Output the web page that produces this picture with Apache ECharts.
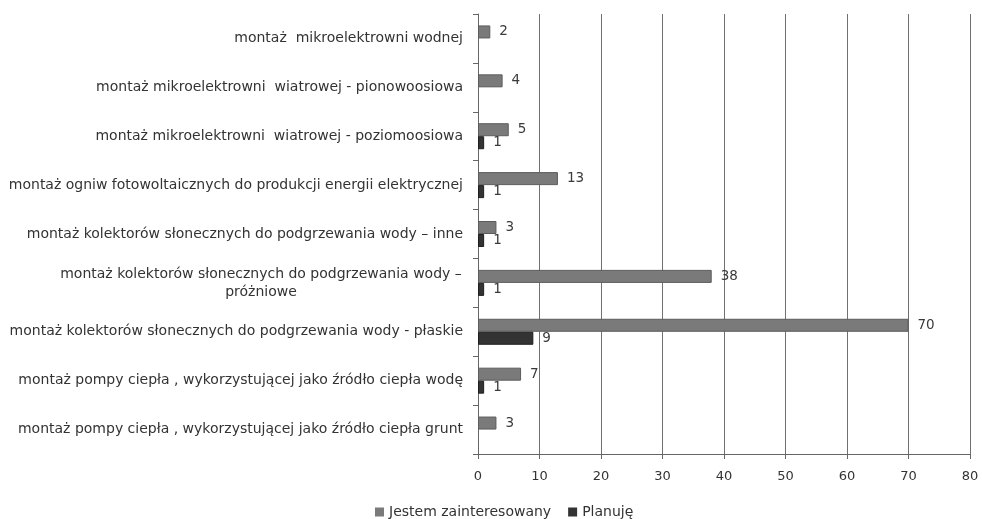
<!DOCTYPE html>
<html>
<head>
<meta charset="utf-8">
<script src="https://cdn.jsdelivr.net/npm/echarts@6/dist/echarts.min.js"></script>
<style>
  html, body { margin: 0; padding: 0; background: #fff; }
  #chart { width: 982px; height: 519px; }
</style>
</head>
<body>
<div id="chart"></div>
<script>
// Categories, listed top to bottom
const categories = [
  'montaż  mikroelektrowni wodnej',
  'montaż mikroelektrowni  wiatrowej - pionowoosiowa',
  'montaż mikroelektrowni  wiatrowej - poziomoosiowa',
  'montaż ogniw fotowoltaicznych do produkcji energii elektrycznej',
  'montaż kolektorów słonecznych do podgrzewania wody – inne',
  'montaż kolektorów słonecznych do podgrzewania wody –\npróżniowe',
  'montaż kolektorów słonecznych do podgrzewania wody - płaskie',
  'montaż pompy ciepła , wykorzystującej jako źródło ciepła wodę',
  'montaż pompy ciepła , wykorzystującej jako źródło ciepła grunt'
];

const seriesNames = ['Jestem zainteresowany', 'Planuję'];

const interested = [2, 4, 5, 13, 3, 38, 70, 7, 3];
const planning = [null, null, 1, 1, 1, 1, 9, 1, null];

const xTicks = [0, 10, 20, 30, 40, 50, 60, 70, 80];

const FONT = 'DejaVu Sans';
const chart = echarts.init(document.getElementById('chart'), null, { renderer: 'canvas' });

const valueLabel = {
  show: true,
  position: 'right',
  distance: 9,
  color: '#3a3a3a',
  fontFamily: FONT,
  fontSize: 13.5,
  formatter: p => (p.value == null ? '' : String(p.value))
};

chart.setOption({
  animation: false,
  backgroundColor: '#ffffff',
  grid: { left: 478, right: 12, top: 14, bottom: 65, containLabel: false },
  legend: {
    left: 370,
    top: 500,
    icon: 'rect',
    itemWidth: 9,
    itemHeight: 9,
    itemGap: 17,
    itemStyle: { borderWidth: 0 },
    textStyle: { fontFamily: FONT, fontSize: 14, color: '#333' },
    data: seriesNames
  },
  xAxis: {
    type: 'value',
    min: xTicks[0],
    max: xTicks[xTicks.length - 1],
    interval: 10,
    axisLine: { show: true, lineStyle: { color: '#666', width: 1 } },
    axisTick: { show: true, length: 5, lineStyle: { color: '#666' } },
    axisLabel: { margin: 16, fontFamily: FONT, fontSize: 13, color: '#333' },
    splitLine: { show: true, lineStyle: { color: '#707070', width: 1 } }
  },
  yAxis: {
    type: 'category',
    inverse: true,
    data: categories,
    axisLine: { show: true, lineStyle: { color: '#666', width: 1 } },
    axisTick: { show: true, length: 5, lineStyle: { color: '#666' } },
    axisLabel: {
      margin: 15,
      fontFamily: FONT,
      fontSize: 14,
      color: '#333',
      lineHeight: 18,
      formatter: v => {
        if (v.indexOf('\n') >= 0) {
          return v.split('\n').map(s => '{c|' + s + '}').join('\n');
        }
        return v;
      },
      rich: {
        c: { width: 404, align: 'center', fontFamily: FONT, fontSize: 14, color: '#333', lineHeight: 18 }
      }
    }
  },
  series: [
    {
      name: seriesNames[0],
      type: 'bar',
      data: interested,
      barWidth: 13,
      barGap: '0%',
      itemStyle: { color: '#7a7a7a', borderColor: '#5c5c5c', borderWidth: 1 },
      label: valueLabel
    },
    {
      name: seriesNames[1],
      type: 'bar',
      data: planning,
      barWidth: 13,
      barGap: '0%',
      itemStyle: { color: '#333333', borderColor: '#1e1e1e', borderWidth: 1 },
      label: valueLabel
    }
  ]
});
</script>
</body>
</html>
